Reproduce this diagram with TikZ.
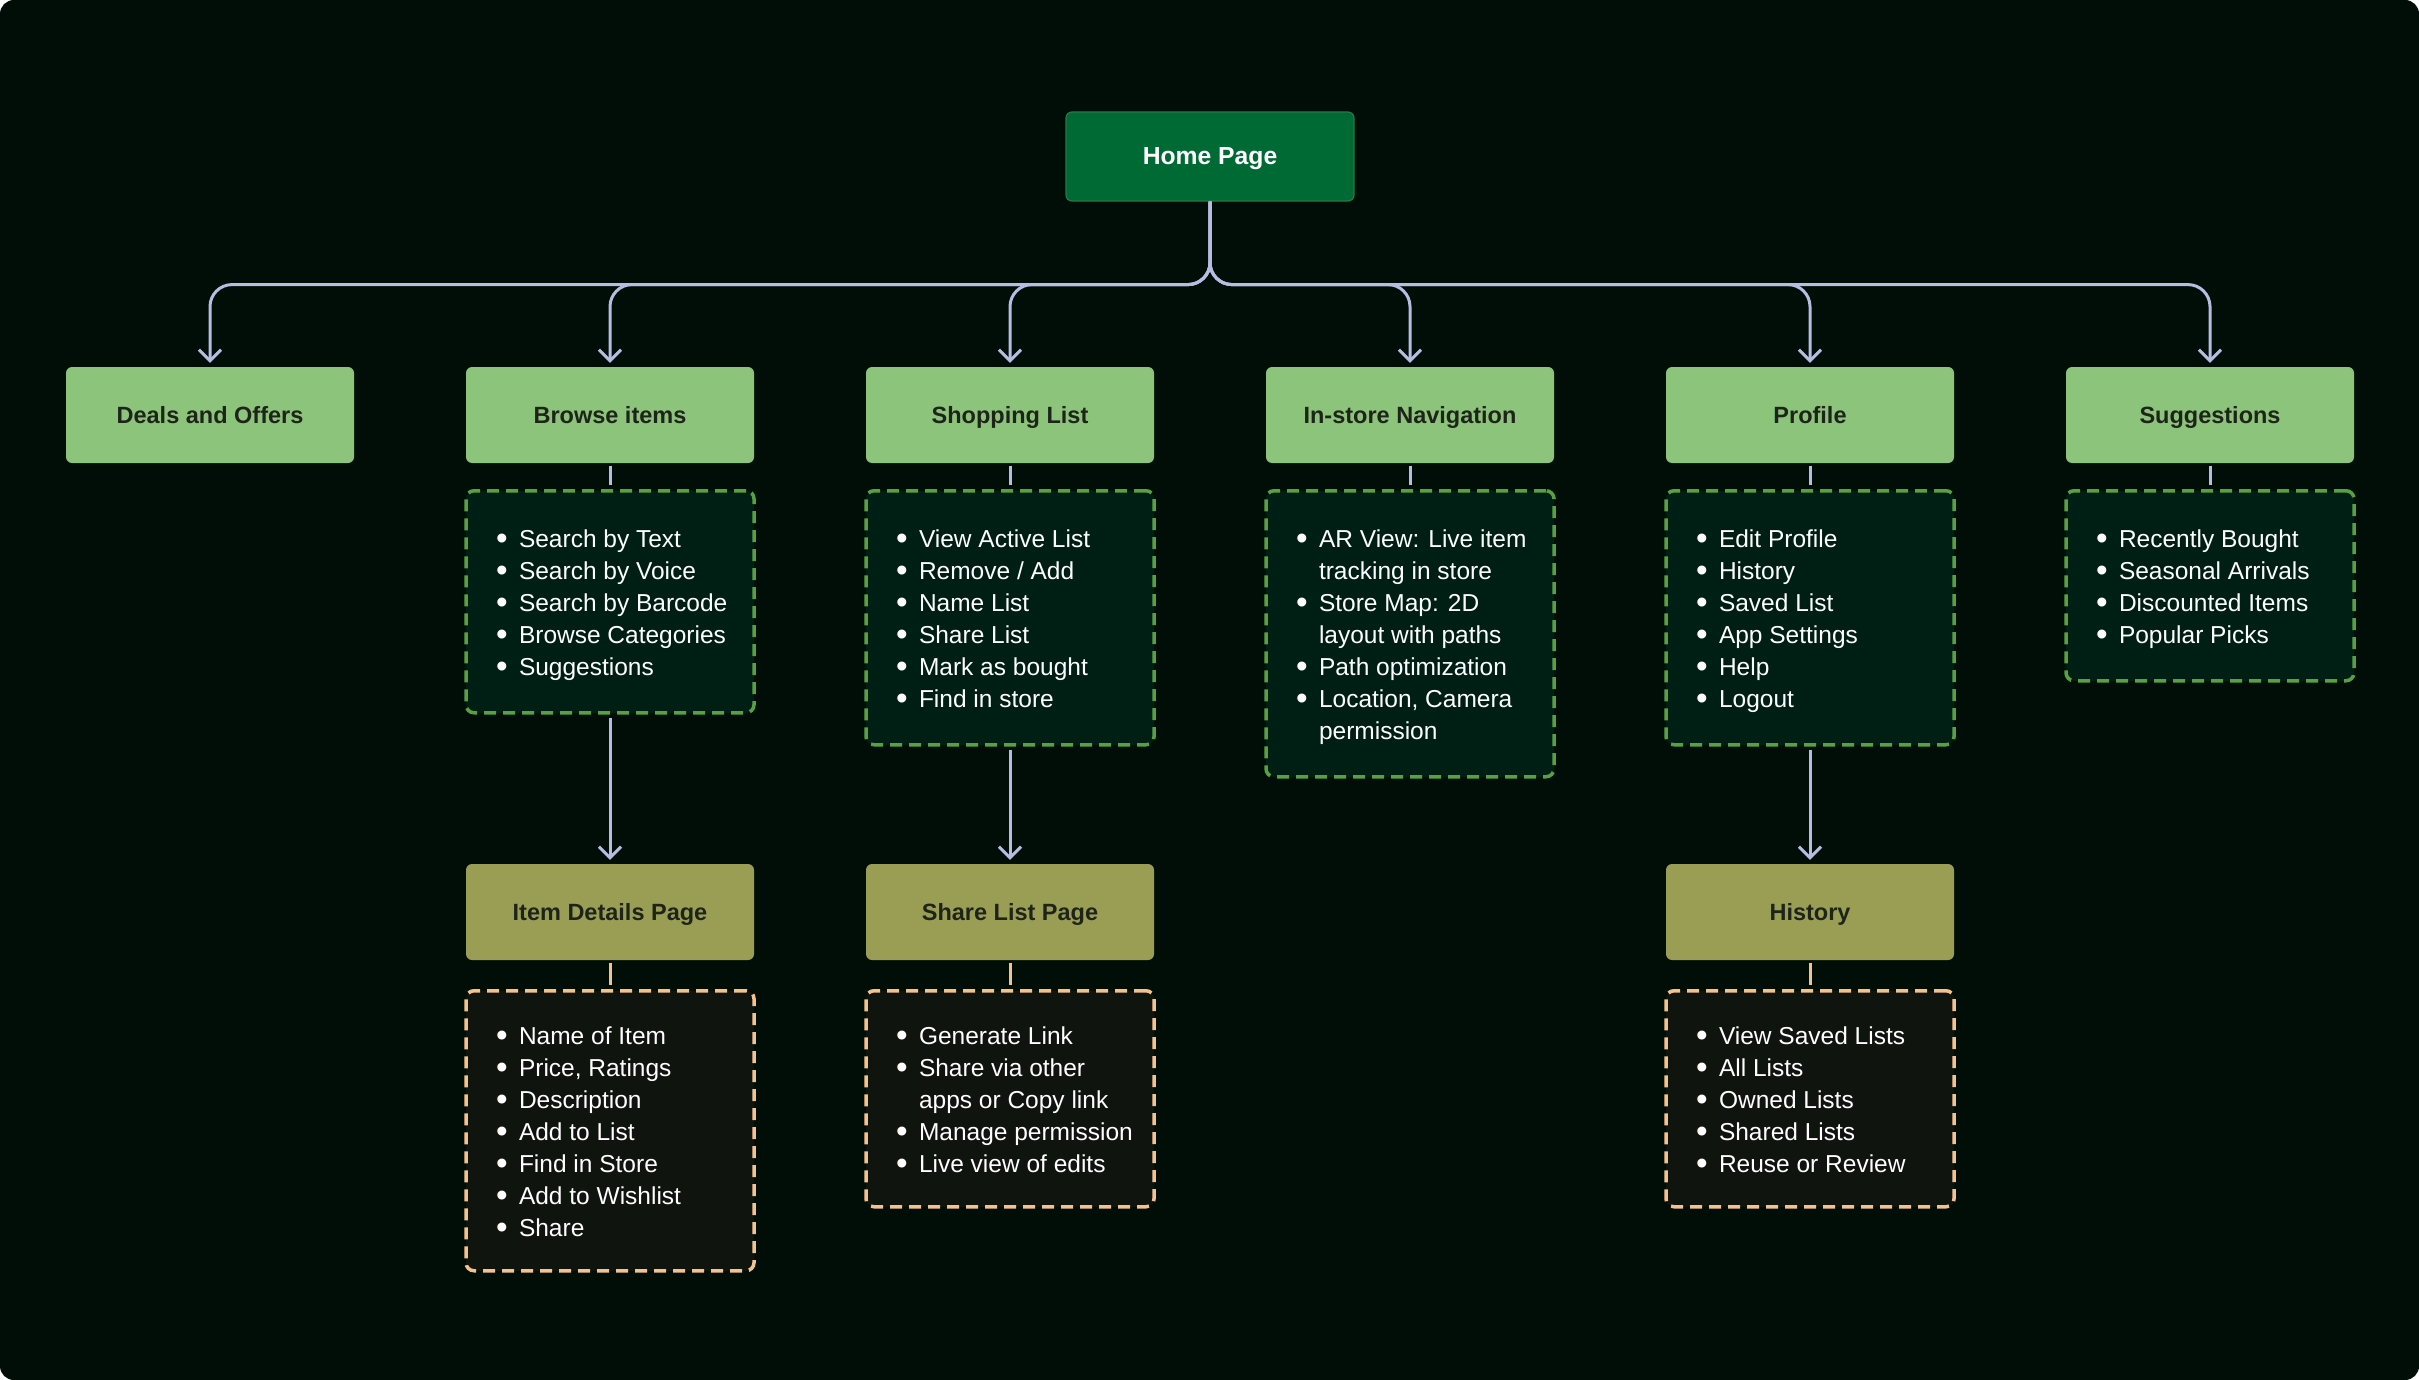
\documentclass[tikz,border=0pt]{standalone}
\usepackage{fontspec}
\setmainfont{Liberation Sans}
\usetikzlibrary{arrows.meta}

\definecolor{pageBg}{RGB}{0,14,8}
\definecolor{homeGreen}{RGB}{0,106,52}
\definecolor{homeEdge}{RGB}{36,122,72}
\definecolor{leafGreen}{RGB}{139,196,122}
\definecolor{oliveBox}{RGB}{154,158,84}
\definecolor{titleInk}{RGB}{30,36,26}
\definecolor{listGreen}{RGB}{0,31,20}
\definecolor{dashGreen}{RGB}{88,160,66}
\definecolor{listDark}{RGB}{16,20,14}
\definecolor{dashOrange}{RGB}{246,194,140}
\definecolor{wire}{RGB}{184,188,224}

\newcommand{\titlefont}{\fontsize{23.5}{28}\selectfont\bfseries}
\newcommand{\listfont}{\fontsize{24.5}{32}\selectfont}
\newcommand{\bul}{\makebox[23pt][l]{\raisebox{-2.6pt}{\scalebox{1.35}{\textbullet}}}}
\newcommand{\cnt}{\hspace*{23pt}}
\newcommand{\itemlist}[1]{\raisebox{-3pt}[\height][\depth]{\makebox[288pt][l]{\hspace{30pt}\begin{tabular}{@{}l@{}}#1\end{tabular}}}}

\tikzset{
  homebox/.style={rectangle, rounded corners=6pt, fill=homeGreen, draw=homeEdge, line width=1.2pt,
    minimum width=288pt, minimum height=89pt, text=white, text height=20pt, text depth=4pt,
    font=\fontsize{24.7}{28}\selectfont\bfseries},
  topbox/.style={rectangle, rounded corners=6pt, fill=leafGreen, minimum width=288pt,
    minimum height=96pt, text=titleInk, text height=20pt, text depth=4pt, font=\titlefont},
  subbox/.style={topbox, fill=oliveBox},
  greenlist/.style={rectangle, rounded corners=8pt, fill=listGreen, draw=dashGreen, line width=3.5pt,
    dash pattern=on 12pt off 7pt, minimum width=288pt, inner xsep=0pt, inner ysep=31pt,
    text=white, font=\listfont, anchor=north},
  orangelist/.style={greenlist, fill=listDark, draw=dashOrange, inner ysep=28pt},
  link/.style={draw=wire, line width=3pt},
  flowarrow/.style={link, -{Straight Barb[length=11pt, width=22pt]}},
}

\begin{document}
\begin{tikzpicture}[x=1pt, y=-1pt]
			%%%%% START %%%%%

			\fill[pageBg, rounded corners=14pt] (0,0) rectangle (2419,1380);
			\useasboundingbox (0,0) rectangle (2419,1380);

			\node[homebox] (home) at (1210,156.5) {Home Page};

			\node[topbox] (deals) at (210,415) {Deals and Offers};
			\node[topbox] (browse) at (610,415) {Browse items};
			\node[topbox] (shopping) at (1010,415) {Shopping List};
			\node[topbox] (nav) at (1410,415) {In-store Navigation};
			\node[topbox] (profile) at (1810,415) {Profile};
			\node[topbox] (suggest) at (2210,415) {Suggestions};

			\node[greenlist] (browseLst) at (610,489) {\itemlist{
				\bul Search by Text\\ \bul Search by Voice\\ \bul Search by Barcode\\
				\bul Browse Categories\\ \bul Suggestions}};
			\node[greenlist] (shoppingLst) at (1010,489) {\itemlist{
				\bul View Active List\\ \bul Remove / Add\\ \bul Name List\\
				\bul Share List\\ \bul Mark as bought\\ \bul Find in store}};
			\node[greenlist] (navLst) at (1410,489) {\itemlist{
				\bul AR View: Live item\\ \cnt tracking in store\\ \bul Store Map: 2D\\
				\cnt layout with paths\\ \bul Path optimization\\ \bul Location, Camera\\
				\cnt permission}};
			\node[greenlist] (profileLst) at (1810,489) {\itemlist{
				\bul Edit Profile\\ \bul History\\ \bul Saved List\\
				\bul App Settings\\ \bul Help\\ \bul Logout}};
			\node[greenlist] (suggestLst) at (2210,489) {\itemlist{
				\bul Recently Bought\\ \bul Seasonal Arrivals\\ \bul Discounted Items\\
				\bul Popular Picks}};

			\node[subbox] (itemPage) at (610,912) {Item Details Page};
			\node[subbox] (sharePage) at (1010,912) {Share List Page};
			\node[subbox] (histPage) at (1810,912) {History};

			\node[orangelist] (itemLst) at (610,989) {\itemlist{
				\bul Name of Item\\ \bul Price, Ratings\\ \bul Description\\
				\bul Add to List\\ \bul Find in Store\\ \bul Add to Wishlist\\ \bul Share}};
			\node[orangelist] (shareLst) at (1010,989) {\itemlist{
				\bul Generate Link\\ \bul Share via other\\ \cnt apps or Copy link\\
				\bul Manage permission\\ \bul Live view of edits}};
			\node[orangelist] (histLst) at (1810,989) {\itemlist{
				\bul View Saved Lists\\ \bul All Lists\\ \bul Owned Lists\\
				\bul Shared Lists\\ \bul Reuse or Review}};

			% home to the six sections
			\draw[flowarrow, rounded corners=22pt, shorten >=4pt] (home.south) -- ++(0,83) -| (deals.north);
			\draw[flowarrow, rounded corners=22pt, shorten >=4pt] (home.south) -- ++(0,83) -| (browse.north);
			\draw[flowarrow, rounded corners=22pt, shorten >=4pt] (home.south) -- ++(0,83) -| (shopping.north);
			\draw[flowarrow, rounded corners=22pt, shorten >=4pt] (home.south) -- ++(0,83) -| (nav.north);
			\draw[flowarrow, rounded corners=22pt, shorten >=4pt] (home.south) -- ++(0,83) -| (profile.north);
			\draw[flowarrow, rounded corners=22pt, shorten >=4pt] (home.south) -- ++(0,83) -| (suggest.north);

			% sections to their lists
			\draw[link, shorten <=2.5pt, shorten >=4pt] (browse) -- (browseLst);
			\draw[link, shorten <=2.5pt, shorten >=4pt] (shopping) -- (shoppingLst);
			\draw[link, shorten <=2.5pt, shorten >=4pt] (nav) -- (navLst);
			\draw[link, shorten <=2.5pt, shorten >=4pt] (profile) -- (profileLst);
			\draw[link, shorten <=2.5pt, shorten >=4pt] (suggest) -- (suggestLst);

			% lists to sub pages
			\draw[flowarrow, shorten <=3pt, shorten >=4pt] (browseLst) -- (itemPage);
			\draw[flowarrow, shorten <=3pt, shorten >=4pt] (shoppingLst) -- (sharePage);
			\draw[flowarrow, shorten <=3pt, shorten >=4pt] (profileLst) -- (histPage);

			\draw[link, draw=dashOrange, shorten <=2.5pt, shorten >=4pt] (itemPage) -- (itemLst);
			\draw[link, draw=dashOrange, shorten <=2.5pt, shorten >=4pt] (sharePage) -- (shareLst);
			\draw[link, draw=dashOrange, shorten <=2.5pt, shorten >=4pt] (histPage) -- (histLst);

			%%%%% END %%%%%
\end{tikzpicture}
\end{document}
